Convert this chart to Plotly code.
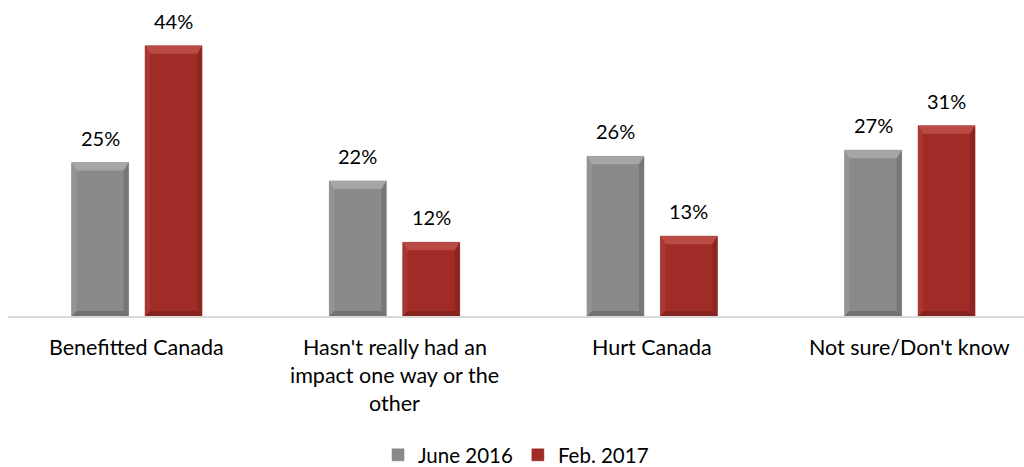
import plotly.graph_objects as go

categories = ["Benefitted Canada", "Hasn't really had an<br>impact one way or the<br>other", "Hurt Canada", "Not sure/Don't know"]
june_2016 = [25, 22, 26, 27]
feb_2017 = [44, 12, 13, 31]
series_names = ["June 2016", "Feb. 2017"]

FONT = "Lato, Carlito, Calibri, sans-serif"
GRAY = "#8a8a8a"
RED = "#a12b27"
BEVEL = {
    GRAY: dict(top="#a6a6a6", left="#939393", right="#777777", bottom="#727272"),
    RED: dict(top="#ba4a44", left="#aa3631", right="#8d2521", bottom="#87231f"),
}

W, H = 1024, 467
ML, MR, MT, MB = 8, 0, 9, 151
half = 0.1425
bw = 0.221
YMAX = 50
XR = [-0.5, 3.443]
px_x = (W - ML - MR) / (XR[1] - XR[0])
px_y = (H - MT - MB) / YMAX

idx = list(range(len(categories)))
fig = go.Figure()
fig.add_trace(go.Bar(x=[i - half for i in idx], y=june_2016, width=bw, name=series_names[0],
                     marker=dict(color=GRAY, line=dict(color="#7a7a7a", width=0.5))))
fig.add_trace(go.Bar(x=[i + half for i in idx], y=feb_2017, width=bw, name=series_names[1],
                     marker=dict(color=RED, line=dict(color="#8a2420", width=0.5))))

shapes = []
bx = 5 / px_x
by_top = 8 / px_y
by_bot = 5 / px_y
for off, vals, col in ((-half, june_2016, GRAY), (half, feb_2017, RED)):
    bv = BEVEL[col]
    for i in idx:
        x0, x1 = i + off - bw / 2, i + off + bw / 2
        y0, y1 = 0, vals[i]
        common = dict(type="path", xref="x", yref="y", layer="above", line=dict(width=0))
        shapes.append(dict(common, fillcolor=bv["left"],
                           path=f"M{x0},{y1} L{x0+bx},{y1-by_top} L{x0+bx},{y0+by_bot} L{x0},{y0} Z"))
        shapes.append(dict(common, fillcolor=bv["right"],
                           path=f"M{x1},{y1} L{x1-bx},{y1-by_top} L{x1-bx},{y0+by_bot} L{x1},{y0} Z"))
        shapes.append(dict(common, fillcolor=bv["top"],
                           path=f"M{x0},{y1} L{x1},{y1} L{x1-bx},{y1-by_top} L{x0+bx},{y1-by_top} Z"))
        shapes.append(dict(common, fillcolor=bv["bottom"],
                           path=f"M{x0},{y0} L{x1},{y0} L{x1-bx},{y0+by_bot} L{x0+bx},{y0+by_bot} Z"))

ann = []
for i in idx:
    for off, vals in ((-half, june_2016), (half, feb_2017)):
        ann.append(dict(x=i + off, y=vals[i], xref="x", yref="y", text=f"{vals[i]}%",
                        showarrow=False, yanchor="bottom", yshift=11,
                        font=dict(family=FONT, size=20, color="#000")))
    lines = categories[i].split("<br>")
    for k, ln in enumerate(lines):
        ann.append(dict(x=i, y=0, xref="x", yref="paper", text=ln, showarrow=False,
                        yanchor="middle", yshift=-(31 + 28 * k),
                        font=dict(family=FONT, size=21.5, color="#000")))

fig.update_layout(
    width=W, height=H,
    margin=dict(l=ML, r=MR, t=MT, b=MB, autoexpand=False),
    plot_bgcolor="white", paper_bgcolor="white",
    barmode="overlay",
    showlegend=True,
    legend=dict(orientation="h", x=0.5, xanchor="center", y=-(455 - (H - MB)) / (H - MT - MB),
                yanchor="middle",
                font=dict(family=FONT, size=20.5, color="#000"), itemwidth=30,
                traceorder="normal"),
    xaxis=dict(range=XR, showticklabels=False, showgrid=False, zeroline=False,
               showline=True, linecolor="#d9d9d9", linewidth=2, ticks=""),
    yaxis=dict(range=[0, YMAX], visible=False, showgrid=False, zeroline=False),
    annotations=ann,
    shapes=shapes,
)

fig.write_html("out.html", config={"displayModeBar": False},
               post_script="document.body.style.margin='0';document.body.style.overflow='hidden';")
